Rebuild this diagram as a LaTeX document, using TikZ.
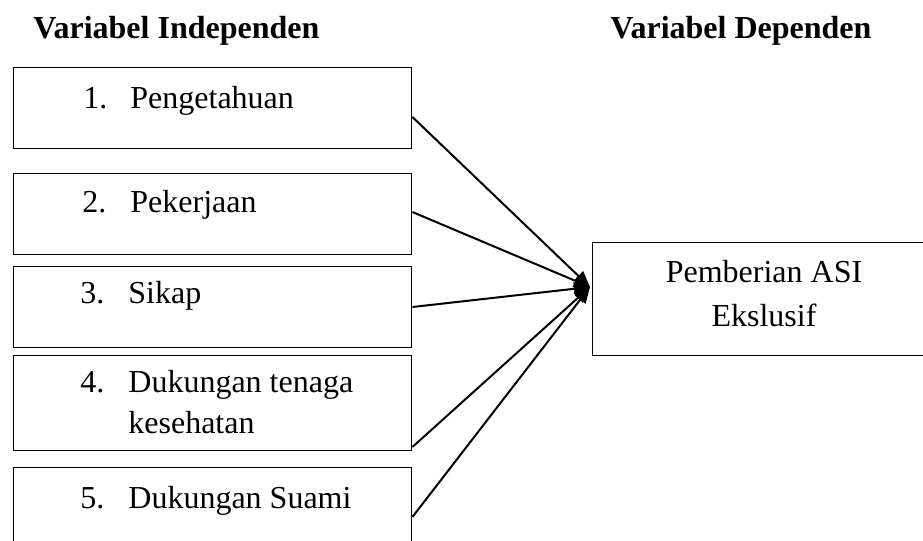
\documentclass[tikz,border=0pt]{standalone}
\usepackage{fontspec}
\setmainfont{Liberation Serif}
\usetikzlibrary{arrows.meta,calc}
\begin{document}
\begin{tikzpicture}[x=0.5pt,y=-0.5pt,
  boxv/.style={draw=black,line width=0.7pt,rectangle,inner sep=0pt,anchor=north west,minimum width=199pt},
  lbl/.style={anchor=base west,inner sep=0pt,font=\fontsize{16pt}{19pt}\selectfont},
  ttl/.style={anchor=base west,inner sep=0pt,font=\fontsize{16pt}{19pt}\selectfont\bfseries},
  conn/.style={line width=1pt,-{Triangle[length=8pt,width=6.5pt]}}]
\useasboundingbox (0,0) rectangle (923,541);
\clip (0,0) rectangle (923,541);
\node[ttl] (t1) at (33,38) {Variabel Independen};
\node[ttl] (t2) at (610,38) {Variabel Dependen};
\node[boxv,minimum height=40.5pt] (b1) at (13,67) {};
\node[boxv,minimum height=40.5pt] (b2) at (13,173) {};
\node[boxv,minimum height=40.5pt] (b3) at (13,266) {};
\node[boxv,minimum height=47.5pt] (b4) at (13,355) {};
\node[boxv,minimum height=50pt] (b5) at (13,467) {};
\node[boxv,minimum width=180pt,minimum height=56.5pt] (dep) at (592,242) {};
\node[lbl] (n1) at (83,108) {1.};
\node[lbl] (l1) at (130,108) {Pengetahuan};
\node[lbl] (n2) at (82,212) {2.};
\node[lbl] (l2) at (130,212) {Pekerjaan};
\node[lbl] (n3) at (80,303) {3.};
\node[lbl] (l3) at (128,303) {Sikap};
\node[lbl] (n4) at (80,392) {4.};
\node[lbl] (l4) at (128,392) {Dukungan tenaga};
\node[lbl] (l4b) at (128,433) {kesehatan};
\node[lbl] (n5) at (80,508) {5.};
\node[lbl] (l5) at (128,508) {Dukungan Suami};
\node[anchor=base,inner sep=0pt,font=\fontsize{16pt}{19pt}\selectfont] (d1) at (764,282) {Pemberian ASI};
\node[anchor=base,inner sep=0pt,font=\fontsize{16pt}{19pt}\selectfont] (d2) at (764,326) {Ekslusif};
\coordinate (tip) at ($(dep.north west)+(-2,45)$);
\coordinate (s1) at ($(b1.north east)+(0,50)$);
\coordinate (s2) at ($(b2.north east)+(0,39)$);
\coordinate (s3) at ($(b3.north east)+(0,41)$);
\coordinate (s4) at ($(b4.north east)+(0,92)$);
\coordinate (s5) at ($(b5.north east)+(0,50)$);
\draw[conn] (s1) -- (tip);
\draw[conn] (s2) -- (tip);
\draw[conn] (s3) -- (tip);
\draw[conn] (s4) -- (tip);
\draw[conn] (s5) -- (tip);
\end{tikzpicture}
\end{document}
